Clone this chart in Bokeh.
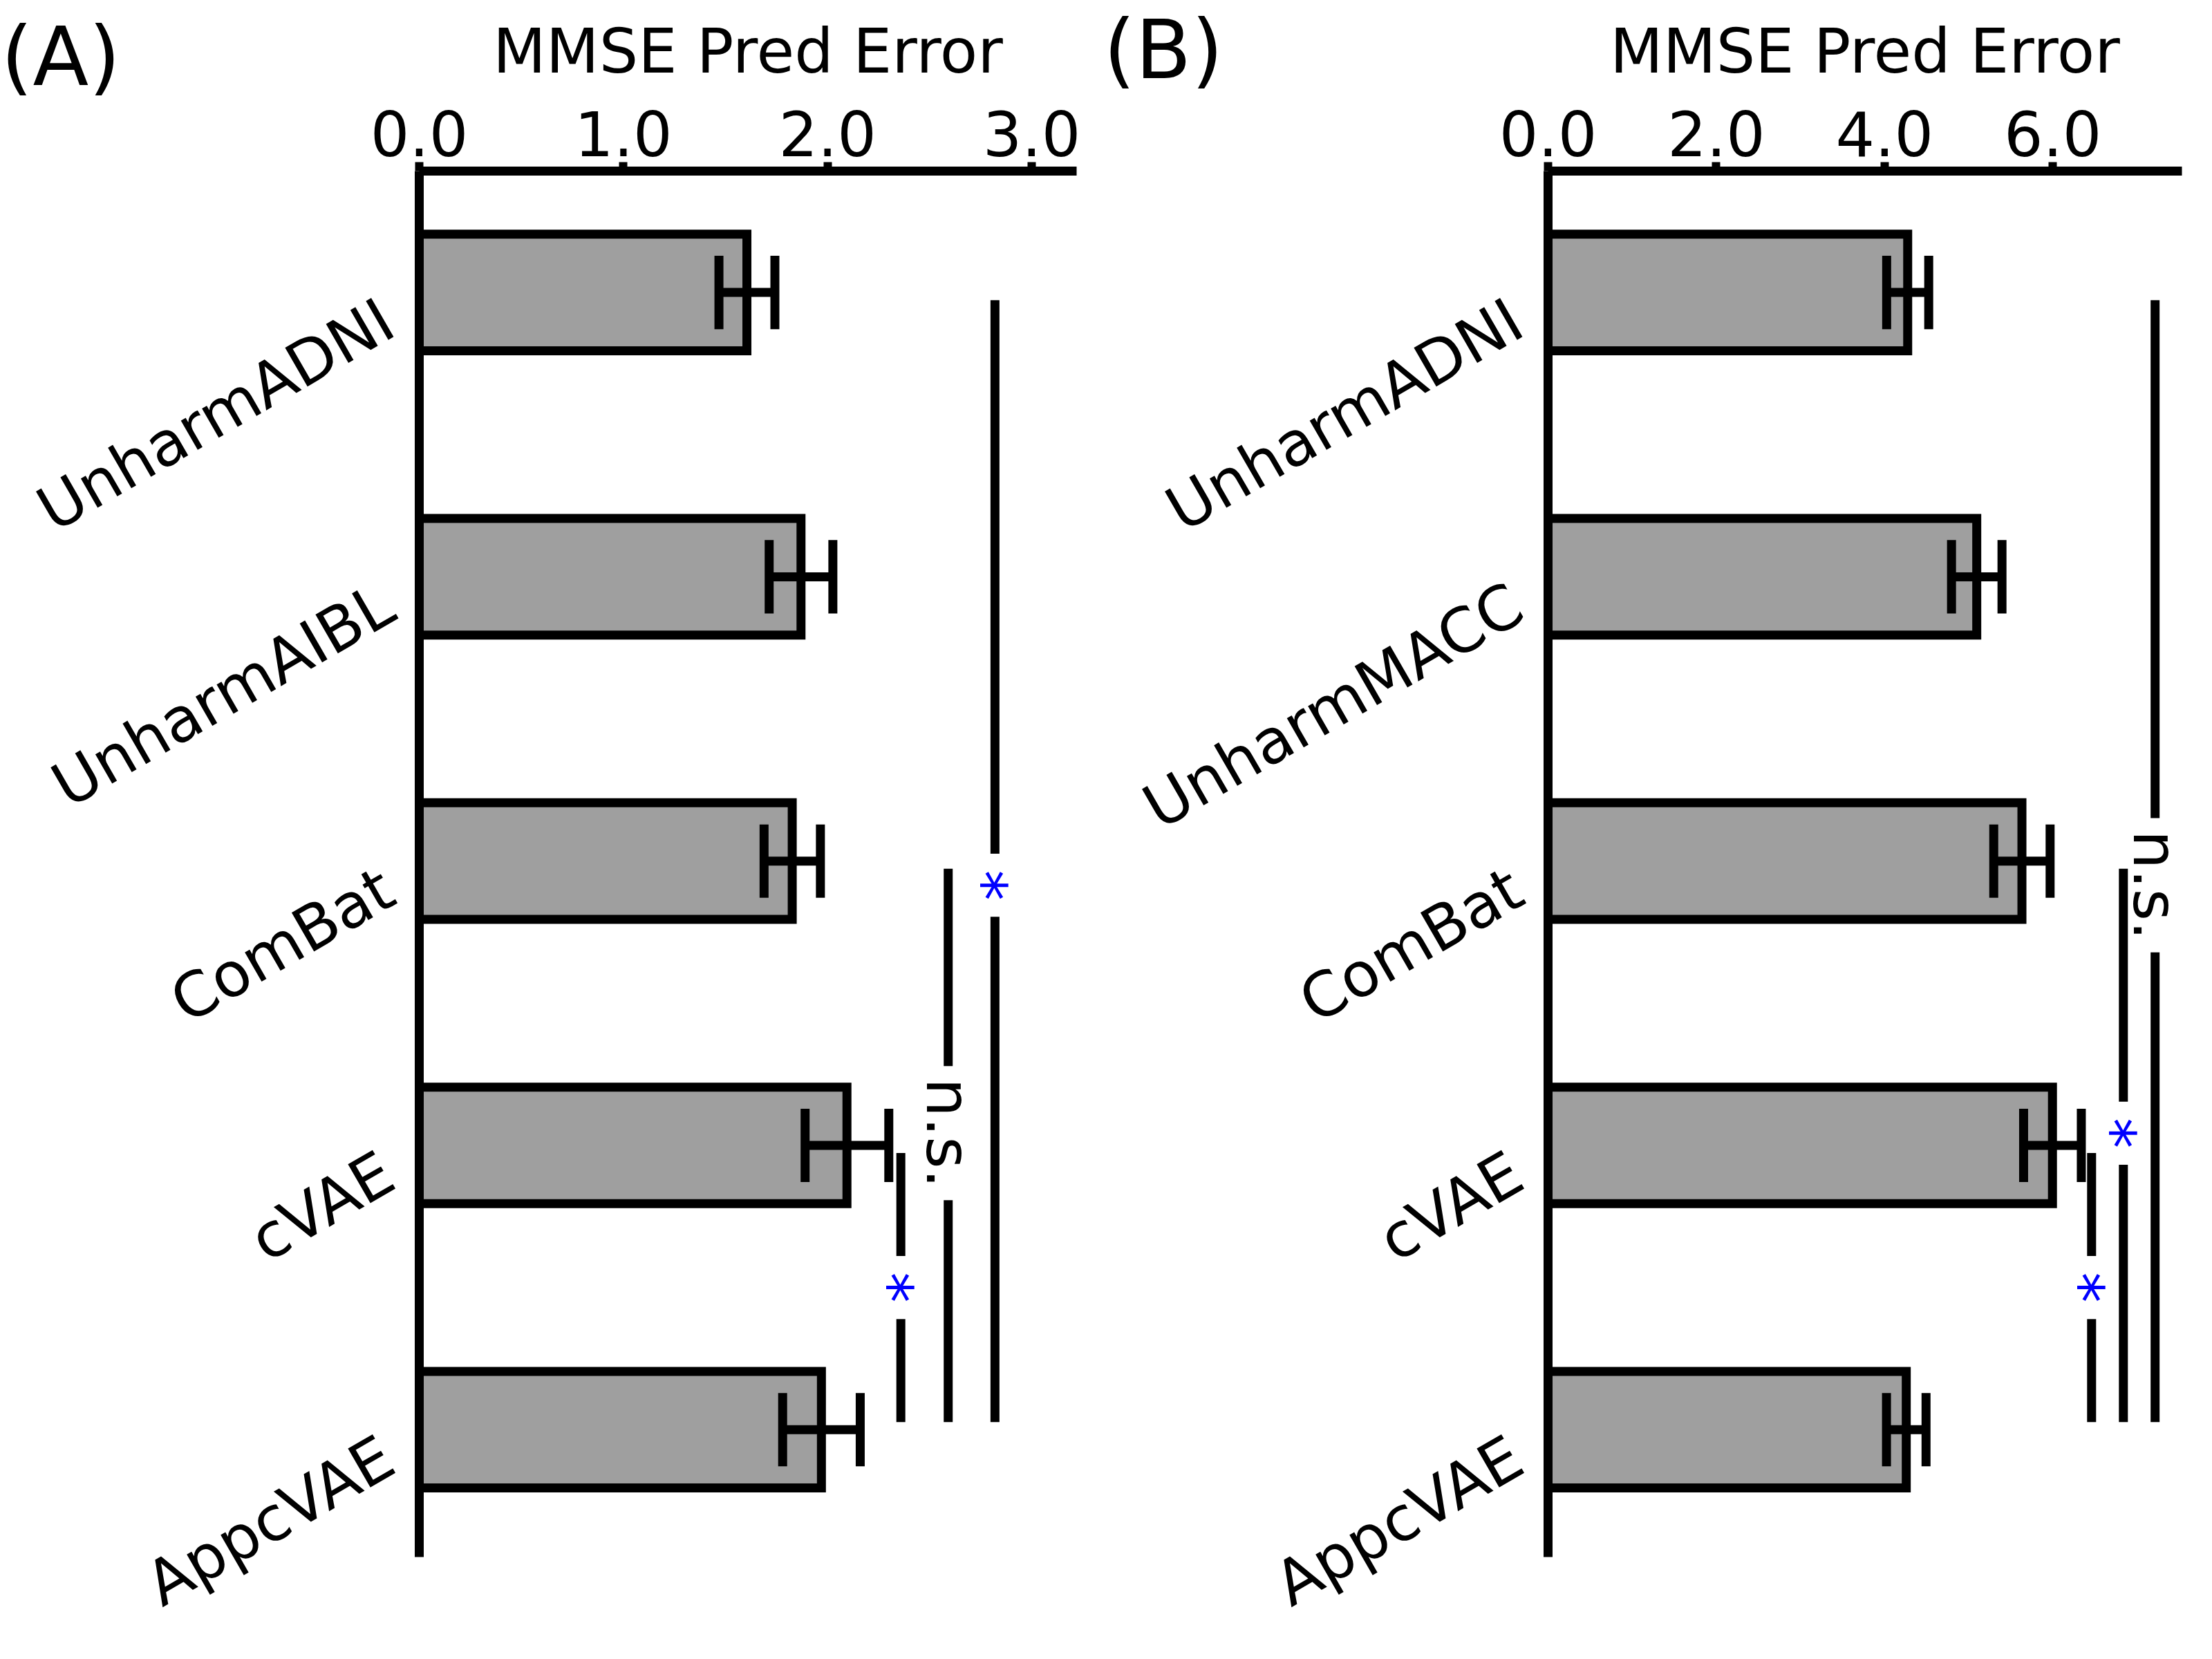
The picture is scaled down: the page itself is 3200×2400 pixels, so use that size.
import math
from bokeh.plotting import figure
from bokeh.layouts import row
from bokeh.models import Range1d, FixedTicker, NumeralTickFormatter, Label, LinearAxis
from bokeh.core.properties import value
from bokeh.embed import file_html
from bokeh.resources import INLINE

FONT = "DejaVu Sans"

# ---------------- Panel A data ----------------
a_categories = ["UnharmADNI", "UnharmAIBL", "ComBat", "cVAE", "AppcVAE"]
a_means = [1.605, 1.87, 1.827, 2.095, 1.97]
a_errors = [0.137, 0.156, 0.138, 0.205, 0.19]
a_ticks = [0.0, 1.0, 2.0, 3.0]
a_xmax = 3.22
a_sig_from = [0, 2, 3]
a_sig_to = [4, 4, 4]
a_sig_x = [2.82, 2.591, 2.359]
a_sig_label = ["*", "n.s.", "*"]
a_sig_label_y = [2.085, 2.957, 3.50]

# ---------------- Panel B data ----------------
b_categories = ["UnharmADNI", "UnharmMACC", "ComBat", "cVAE", "AppcVAE"]
b_means = [4.275, 5.096, 5.633, 5.996, 4.258]
b_errors = [0.25, 0.30, 0.335, 0.343, 0.235]
b_ticks = [0.0, 2.0, 4.0, 6.0]
b_xmax = 7.535
b_sig_from = [0, 2, 3]
b_sig_to = [4, 4, 4]
b_sig_x = [7.216, 6.839, 6.461]
b_sig_label = ["n.s.", "*", "*"]
b_sig_label_y = [2.085, 2.957, 3.50]

axis_title = "MMSE Pred Error"

# ---------------- styles ----------------
Y_TOP, Y_BOTTOM = -0.427, 4.448
LABEL_SHIFT = 0.08           # rotated category labels sit slightly below their bar centre
BAR_H = 0.41
CAP_HALF = 0.129
LW = 13
BAR_FILL = "#9f9f9f"
FS = "89px"
LINE_INSET = 0.027
GAP_HALF = {"*": 0.111, "n.s.": 0.236}
LABEL_COLOR = {"*": "#0000ff", "n.s.": "black"}
LABEL_XOFF = {"*": -16, "n.s.": 0}


def make_panel(letter, cats, means, errs, ticks, xmax, s_from, s_to, s_x, s_lab, s_y,
               frame_width, border_left, border_right, letter_dx, letter_dy):
    p = figure(x_range=Range1d(0, xmax), y_range=Range1d(Y_BOTTOM, Y_TOP),
               x_axis_location="above", y_axis_location=None,
               frame_width=frame_width, frame_height=2005,
               min_border_left=border_left, min_border_right=border_right,
               min_border_top=247, min_border_bottom=140,
               output_backend="svg", toolbar_location=None, tools="")
    p.outline_line_color = None
    p.xgrid.visible = False
    p.ygrid.visible = False
    p.background_fill_color = "white"
    p.border_fill_color = "white"

    pos = list(range(len(cats)))

    # bars
    p.hbar(y=pos, left=0, right=means, height=BAR_H, fill_color=BAR_FILL,
           line_color="black", line_width=LW, line_join="miter")

    # error bars
    lo = [m - e for m, e in zip(means, errs)]
    hi = [m + e for m, e in zip(means, errs)]
    p.segment(x0=lo, y0=pos, x1=hi, y1=pos, line_color="black", line_width=LW)
    p.segment(x0=lo, y0=[y - CAP_HALF for y in pos], x1=lo, y1=[y + CAP_HALF for y in pos],
              line_color="black", line_width=LW)
    p.segment(x0=hi, y0=[y - CAP_HALF for y in pos], x1=hi, y1=[y + CAP_HALF for y in pos],
              line_color="black", line_width=LW)

    # significance lines (gapped around their labels)
    sx0, sy0, sx1, sy1 = [], [], [], []
    for f, t, x, lab, c in zip(s_from, s_to, s_x, s_lab, s_y):
        g = GAP_HALF[lab]
        sx0 += [x, x]
        sx1 += [x, x]
        sy0 += [f + LINE_INSET, c + g]
        sy1 += [c - g, t - LINE_INSET]
    p.segment(x0=sx0, y0=sy0, x1=sx1, y1=sy1, line_color="black", line_width=LW)
    p.text(x=s_x, y=s_y, text=s_lab, angle=-math.pi / 2,
           text_align="center", text_baseline="middle",
           text_color=[LABEL_COLOR[l] for l in s_lab],
           x_offset=[LABEL_XOFF[l] for l in s_lab],
           text_font=value(FONT), text_font_size=value(FS))

    # top axis
    ax = p.xaxis[0]
    ax.ticker = FixedTicker(ticks=ticks)
    ax.formatter = NumeralTickFormatter(format="0.0")
    ax.major_label_text_font = FONT
    ax.major_label_text_font_size = FS
    ax.major_label_text_color = "black"
    ax.axis_line_width = LW
    ax.axis_line_color = "black"
    ax.major_tick_line_width = 12
    ax.major_tick_line_color = "black"
    ax.major_tick_out = 13
    ax.major_tick_in = 0
    ax.minor_tick_line_color = None
    ax.major_label_standoff = 9
    ax.axis_label = axis_title
    ax.axis_label_text_font = FONT
    ax.axis_label_text_font_size = FS
    ax.axis_label_text_font_style = "normal"
    ax.axis_label_text_color = "black"
    ax.axis_label_standoff = 31

    # left spine with rotated category labels
    p.extra_y_ranges = {"labels": Range1d(Y_BOTTOM - LABEL_SHIFT, Y_TOP - LABEL_SHIFT)}
    ay = LinearAxis(y_range_name="labels", ticker=FixedTicker(ticks=pos),
                    major_label_overrides={i: c for i, c in zip(pos, cats)},
                    major_label_orientation=math.pi / 6)
    ay.major_label_text_font = FONT
    ay.major_label_text_font_size = FS
    ay.major_label_text_color = "black"
    ay.major_label_standoff = 45
    ay.major_tick_out = 0
    ay.major_tick_in = 0
    ay.major_tick_line_color = None
    ay.minor_tick_line_color = None
    ay.axis_line_width = LW
    ay.axis_line_color = "black"
    p.add_layout(ay, "left")

    # panel letter (kept in a side panel so that it is not clipped to the frame)
    p.add_layout(Label(x=0, y=Y_TOP, text=letter, text_align="left",
                       text_baseline="alphabetic", x_offset=letter_dx, y_offset=letter_dy,
                       text_font=FONT, text_font_size="118px", text_color="black"), "below")
    return p


pa = make_panel("(A)", a_categories, a_means, a_errors, a_ticks, a_xmax,
                a_sig_from, a_sig_to, a_sig_x, a_sig_label, a_sig_label_y,
                frame_width=951, border_left=606, border_right=33,
                letter_dx=-605, letter_dy=166)
pb = make_panel("(B)", b_categories, b_means, b_errors, b_ticks, b_xmax,
                b_sig_from, b_sig_to, b_sig_x, b_sig_label, b_sig_label_y,
                frame_width=917, border_left=649, border_right=30,
                letter_dx=-643, letter_dy=176)

layout = row(pa, pb, spacing=0)
open("out.html", "w").write(file_html(layout, INLINE))
